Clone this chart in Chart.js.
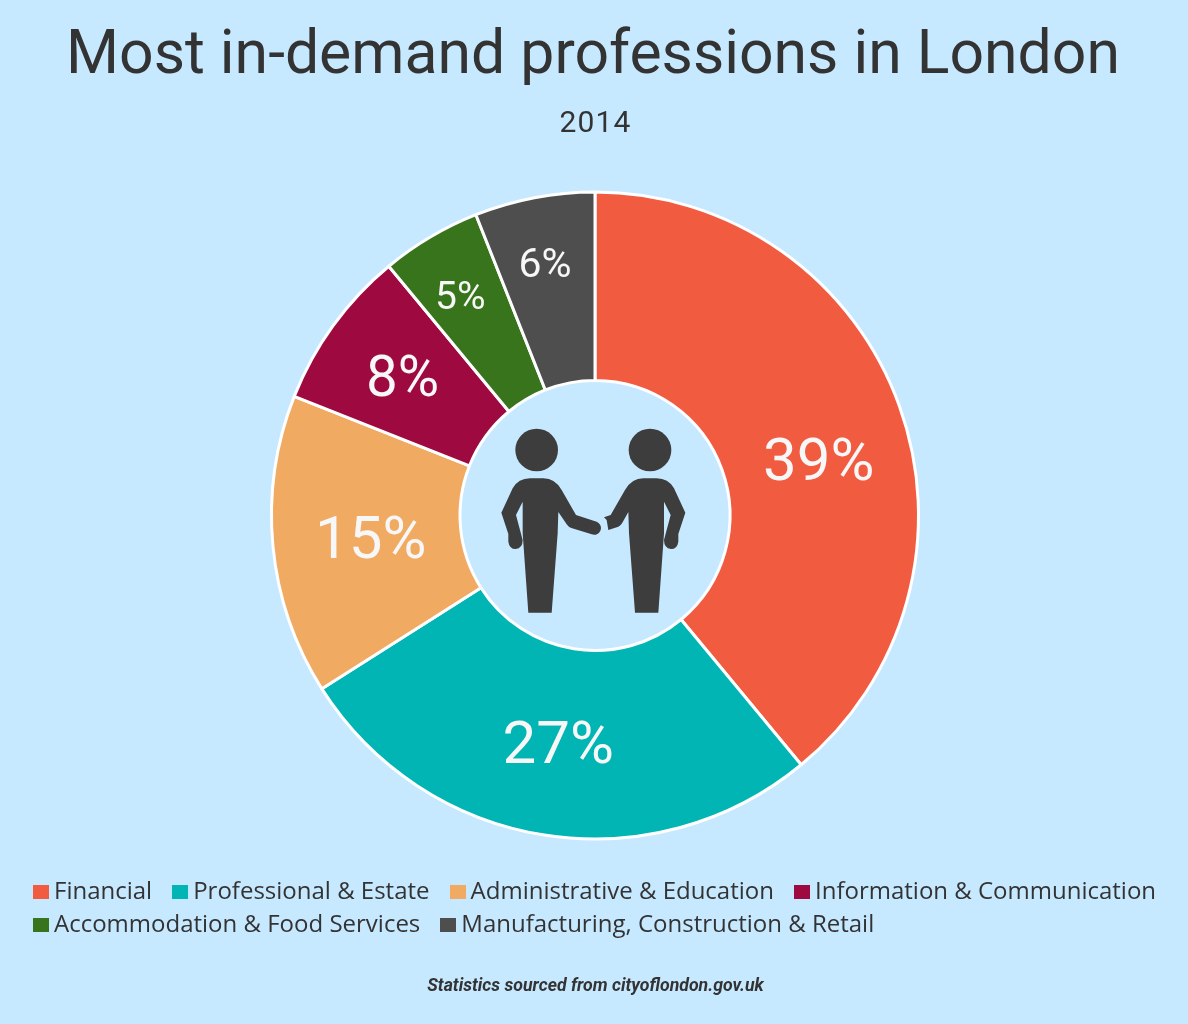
<!DOCTYPE html>
<html>
<head>
<meta charset="utf-8">
<title>Most in-demand professions in London</title>
<script src="https://cdn.jsdelivr.net/npm/chart.js@4"></script>
<style>
  html, body { margin: 0; padding: 0; }
  body { width: 1188px; height: 1024px; background: #c7e9ff; position: relative; overflow: hidden; color: #333; }
  #chart { position: absolute; left: 0; top: 0; }
  .title { position: absolute; left: 0; width: 1186px; top: 17px; text-align: center; font: 400 60.7px Roboto, sans-serif; line-height: 72px; }
  .subtitle { position: absolute; left: 0; width: 1191px; top: 105px; text-align: center; font: 400 30px Roboto, sans-serif; line-height: 34px; letter-spacing: 1.2px; }
  #legend { position: absolute; left: 33px; top: 873px; width: 1150px; display: flex; flex-wrap: wrap; font: 400 24px "Open Sans", sans-serif; line-height: 33px; }
  .item { display: flex; align-items: center; margin-right: 20px; white-space: nowrap; }
  .swatch { width: 16px; height: 14px; margin-right: 5px; margin-top: 5px; }
  .source { position: absolute; left: 0; width: 1191px; top: 974px; text-align: center; font: italic 700 17.7px Roboto, sans-serif; line-height: 22px; }
  #icon { position: absolute; left: 450px; top: 380px; }
</style>
</head>
<body>
<canvas id="chart" width="1188" height="1024"></canvas>
<div class="title">Most in-demand professions in London</div>
<div class="subtitle">2014</div>
<svg id="icon" width="290" height="280" viewBox="0 0 870 840">
  <g fill="#3d3d3d">
    <circle cx="260" cy="210" r="64"/>
    <path d="M235 698 L305 698 L323 460 L325 396 L350 433 Q355 441 364 444 L425 463 A20 20 0 0 0 440 425 L378 405 L335 330 Q315 295 280 295 L240 295 Q205 295 188 325 L154 398 L175 462 L175 485 Q178 507 197 507 Q218 505 218 480 L198 405 L218 365 L218 460 Z"/>
    <circle cx="600" cy="210" r="64"/>
    <path d="M625 698 L555 698 L537 460 L535 396 L517 428 Q512 437 505 440 L475 450 L470 420 L462 412 L482 405 L525 330 Q545 295 580 295 L620 295 Q655 295 672 325 L706 398 L685 462 L685 485 Q682 507 663 507 Q642 505 642 480 L662 405 L642 365 L642 460 Z"/>
  </g>
</svg>
<div id="legend"></div>
<div class="source">Statistics sourced from cityoflondon.gov.uk</div>

<script>
// Chart data
const categories = ['Financial', 'Professional & Estate', 'Administrative & Education', 'Information & Communication', 'Accommodation & Food Services', 'Manufacturing, Construction & Retail'];
const shares = [39, 27, 15, 8, 5, 6];
const colors = ['#f15b40', '#00b5b3', '#f0aa62', '#9e0a40', '#37741b', '#4e4e4e'];

// Percent labels: font size and nudge from the centre of each slice
const labelSizes = [60, 60, 60, 56.5, 39, 41];
const labelNudges = [[8, 27], [-1, 6], [4, 6], [-7, 1], [-18, -19], [-7, -24]];

// ── Percent labels on the slices ── //
const sliceLabels = {
  id: 'sliceLabels',
  afterDatasetsDraw(chart) {
    const { ctx } = chart;
    chart.getDatasetMeta(0).data.forEach((arc, i) => {
      const p = arc.getCenterPoint();
      ctx.save();
      ctx.fillStyle = '#f7f7f7';
      ctx.font = `400 ${labelSizes[i]}px Roboto, sans-serif`;
      ctx.textAlign = 'center';
      ctx.textBaseline = 'middle';
      ctx.fillText(`${shares[i]}%`, p.x + labelNudges[i][0], p.y + labelNudges[i][1]);
      ctx.restore();
    });
  },
};

new Chart(document.getElementById('chart'), {
  type: 'doughnut',
  data: {
    labels: categories,
    datasets: [{
      data: shares,
      backgroundColor: colors,
      borderColor: '#ffffff',
      borderWidth: 3,
    }],
  },
  options: {
    responsive: false,
    animation: false,
    cutout: 135,
    layout: { padding: { left: 270, right: 268, top: 190, bottom: 183 } },
    plugins: { legend: { display: false }, tooltip: { enabled: false } },
  },
  plugins: [sliceLabels],
});

// ── Legend ── //
const legendEl = document.getElementById('legend');
categories.forEach((name, i) => {
  const item = document.createElement('div');
  item.className = 'item';
  const swatch = document.createElement('span');
  swatch.className = 'swatch';
  swatch.style.background = colors[i];
  const label = document.createElement('span');
  label.textContent = name;
  item.append(swatch, label);
  legendEl.append(item);
});
</script>
</body>
</html>
